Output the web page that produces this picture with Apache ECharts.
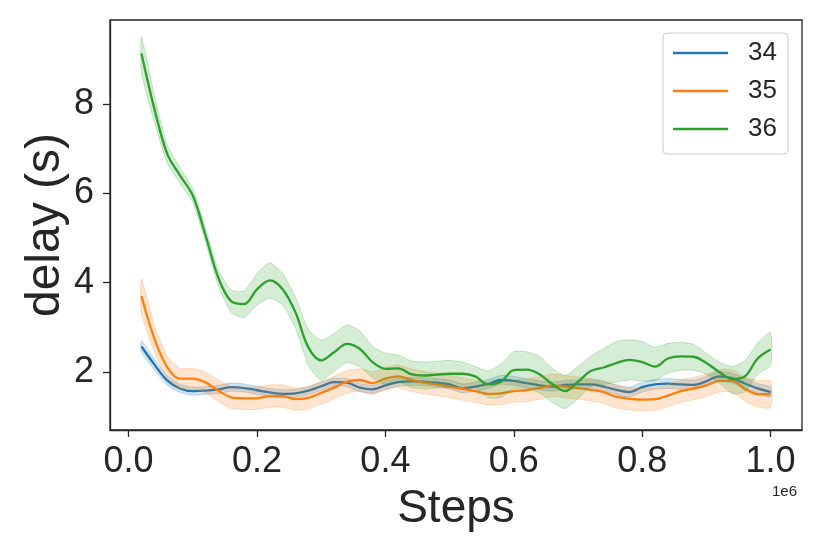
<!DOCTYPE html>
<html>
<head>
<meta charset="utf-8">
<script src="https://cdn.jsdelivr.net/npm/echarts@6/dist/echarts.min.js"></script>
<style>
html,body{margin:0;padding:0;background:#fff;}
#chart{width:830px;height:554px;}
</style>
</head>
<body>
<div id="chart"></div>
<script>
// Steps (in units of 1e6)
const steps = [0.02,0.04,0.06,0.08,0.10,0.12,0.14,0.16,0.18,0.20,0.22,0.24,0.26,0.28,0.30,0.32,0.34,0.36,0.38,0.40,0.42,0.44,0.46,0.48,0.50,0.52,0.54,0.56,0.58,0.60,0.62,0.64,0.66,0.68,0.70,0.72,0.74,0.76,0.78,0.80,0.82,0.84,0.86,0.88,0.90,0.92,0.94,0.96,0.98,1.00];

const seriesNames = ['34','35','36'];

const mean34 = [2.57,2.17,1.81,1.63,1.57,1.58,1.61,1.66,1.64,1.59,1.54,1.51,1.52,1.58,1.68,1.77,1.76,1.65,1.61,1.70,1.77,1.79,1.78,1.76,1.72,1.63,1.67,1.73,1.82,1.80,1.75,1.70,1.67,1.71,1.72,1.72,1.67,1.60,1.55,1.66,1.72,1.74,1.72,1.71,1.79,1.90,1.86,1.74,1.63,1.55];
const lo34 = [2.44,2.05,1.71,1.54,1.48,1.50,1.52,1.57,1.55,1.50,1.45,1.42,1.43,1.49,1.59,1.68,1.67,1.56,1.52,1.61,1.68,1.70,1.69,1.67,1.62,1.53,1.57,1.63,1.72,1.70,1.65,1.60,1.57,1.61,1.62,1.62,1.57,1.49,1.44,1.55,1.61,1.63,1.61,1.60,1.68,1.79,1.75,1.63,1.52,1.44];
const hi34 = [2.70,2.29,1.92,1.72,1.66,1.67,1.70,1.75,1.73,1.68,1.63,1.60,1.61,1.67,1.77,1.86,1.85,1.74,1.70,1.79,1.86,1.88,1.87,1.85,1.82,1.73,1.77,1.83,1.92,1.90,1.85,1.80,1.77,1.81,1.82,1.83,1.78,1.71,1.66,1.77,1.83,1.85,1.83,1.82,1.90,2.01,1.97,1.85,1.74,1.66];

const mean35 = [3.70,2.75,2.11,1.85,1.85,1.76,1.58,1.43,1.41,1.41,1.46,1.46,1.39,1.42,1.53,1.65,1.78,1.82,1.75,1.85,1.90,1.82,1.76,1.72,1.67,1.62,1.57,1.51,1.52,1.57,1.59,1.64,1.70,1.67,1.64,1.60,1.55,1.44,1.40,1.38,1.39,1.47,1.57,1.63,1.70,1.80,1.80,1.62,1.50,1.50];
const lo35 = [3.32,2.45,1.86,1.62,1.62,1.53,1.34,1.18,1.16,1.16,1.21,1.21,1.14,1.17,1.28,1.40,1.53,1.57,1.50,1.60,1.65,1.57,1.51,1.47,1.42,1.37,1.32,1.26,1.27,1.32,1.34,1.39,1.45,1.42,1.39,1.35,1.30,1.19,1.15,1.13,1.14,1.22,1.32,1.38,1.45,1.55,1.55,1.35,1.22,1.20];
const hi35 = [4.08,3.05,2.36,2.08,2.08,1.99,1.82,1.68,1.66,1.66,1.71,1.71,1.64,1.67,1.78,1.90,2.03,2.07,2.00,2.10,2.15,2.07,2.01,1.97,1.92,1.87,1.82,1.76,1.77,1.82,1.84,1.89,1.95,1.92,1.89,1.85,1.80,1.69,1.65,1.63,1.64,1.72,1.82,1.88,1.95,2.05,2.05,1.89,1.80,1.80];

const mean36 = [9.13,7.90,6.89,6.40,5.95,5.05,4.10,3.58,3.52,3.85,4.05,3.85,3.33,2.55,2.26,2.44,2.63,2.52,2.22,2.07,2.08,1.95,1.92,1.94,1.96,1.96,1.90,1.72,1.78,2.04,2.05,1.95,1.73,1.57,1.78,2.02,2.10,2.20,2.27,2.22,2.12,2.30,2.35,2.34,2.20,2.00,1.84,1.90,2.30,2.50];
const lo36 = [8.71,7.60,6.69,6.22,5.80,4.90,3.92,3.33,3.22,3.50,3.65,3.50,2.98,2.15,1.81,2.02,2.21,2.12,1.87,1.72,1.78,1.65,1.62,1.64,1.66,1.68,1.65,1.42,1.43,1.62,1.63,1.53,1.32,1.18,1.40,1.67,1.72,1.77,1.82,1.80,1.80,1.98,2.04,2.04,1.95,1.75,1.52,1.55,1.95,2.15];
const hi36 = [9.50,8.20,7.09,6.58,6.10,5.20,4.28,3.83,3.82,4.20,4.45,4.20,3.68,2.95,2.71,2.86,3.05,2.92,2.57,2.42,2.38,2.25,2.22,2.24,2.26,2.22,2.12,2.02,2.18,2.46,2.45,2.35,2.08,1.92,2.12,2.35,2.52,2.68,2.72,2.68,2.55,2.64,2.66,2.62,2.42,2.22,2.12,2.25,2.65,2.88];

const xTicks = [0.0,0.2,0.4,0.6,0.8,1.0];
const yTicks = [2,4,6,8];

const colors = ['#1f77b4','#ff7f0e','#2ca02c'];
const bandFill = ['rgba(31,119,180,0.2)','rgba(255,127,14,0.2)','rgba(44,160,44,0.2)'];
const bandEdge = ['rgba(31,119,180,0.3)','rgba(255,127,14,0.3)','rgba(44,160,44,0.3)'];

const means = [mean34, mean35, mean36];
const los = [lo34, lo35, lo36];
const his = [hi34, hi35, hi36];

const FONT = '"Liberation Sans", Arial, sans-serif';
const TXT = '#262626';

function bandSeries(k){
  const data = steps.map((x,i)=>[x, los[k][i], his[k][i]]);
  return {
    type:'custom',
    name: 'band'+seriesNames[k],
    data: data,
    encode:{x:0, y:[1,2]},
    z: 2 + k*2,
    silent:true,
    renderItem: function(params, api){
      if (params.dataIndex !== 0) return null;
      const pts = [];
      for (let i=0;i<data.length;i++) pts.push(api.coord([data[i][0], data[i][2]]));
      for (let i=data.length-1;i>=0;i--) pts.push(api.coord([data[i][0], data[i][1]]));
      return {
        type:'polygon',
        shape:{points: pts, smooth: 0.2},
        style:{fill: bandFill[k], stroke: bandEdge[k], lineWidth: 0.8}
      };
    }
  };
}

function lineSeries(k){
  return {
    type:'line',
    name: seriesNames[k],
    data: steps.map((x,i)=>[x, means[k][i]]),
    showSymbol:false,
    symbol:'none',
    smooth:0.35,
    z: 3 + k*2,
    lineStyle:{color: colors[k], width: 2.3},
    itemStyle:{color: colors[k]}
  };
}

const series = [];
for (let k=0;k<3;k++){ series.push(bandSeries(k)); series.push(lineSeries(k)); }

const chart = echarts.init(document.getElementById('chart'), null, {renderer:'canvas'});
chart.setOption({
  animation:false,
  backgroundColor:'#ffffff',
  grid:{left:110, top:20, right:28, bottom:124, show:true, borderColor:TXT, borderWidth:1.3, backgroundColor:'transparent'},
  xAxis:{
    type:'value', min:-0.029, max:1.049,
    name:'Steps', nameLocation:'middle', nameGap:56, nameMoveOverlap:false,
    nameTextStyle:{fontFamily:FONT, fontSize:46, color:TXT},
    axisLine:{show:true, onZero:false, lineStyle:{color:TXT, width:1.3}},
    axisTick:{show:true, length:7, lineStyle:{color:TXT, width:1.3}, customValues:xTicks},
    axisLabel:{customValues:xTicks, fontFamily:FONT, fontSize:36, color:TXT, margin:14, formatter:v=>Number(v).toFixed(1)},
    splitLine:{show:false}
  },
  yAxis:{
    type:'value', min:0.7, max:9.88,
    name:'delay (s)', nameLocation:'middle', nameGap:40, nameMoveOverlap:false,
    nameTextStyle:{fontFamily:FONT, fontSize:48, color:TXT},
    axisLine:{show:true, onZero:false, lineStyle:{color:TXT, width:1.3}},
    axisTick:{show:true, length:7, lineStyle:{color:TXT, width:1.3}, customValues:yTicks},
    axisLabel:{customValues:yTicks, fontFamily:FONT, fontSize:36, color:TXT, margin:16, formatter:v=>String(v)},
    splitLine:{show:false}
  },
  legend:{
    orient:'vertical', left:663, top:33,
    data: seriesNames.map((n,k)=>({name:n, icon:'rect', itemStyle:{color:colors[k]}})),
    itemWidth:55, itemHeight:2.5, itemGap:12,
    padding:[7,11,12,10],
    backgroundColor:'#ffffff', borderColor:'#cccccc', borderWidth:1, borderRadius:4,
    textStyle:{fontFamily:FONT, fontSize:26, color:TXT, lineHeight:26, padding:[0,0,0,15]}
  },
  graphic:[{
    type:'text', right:33, top:484,
    style:{text:'1e6', fontFamily:FONT, fontSize:15, fill:TXT}
  }],
  series: series
});
</script>
</body>
</html>
